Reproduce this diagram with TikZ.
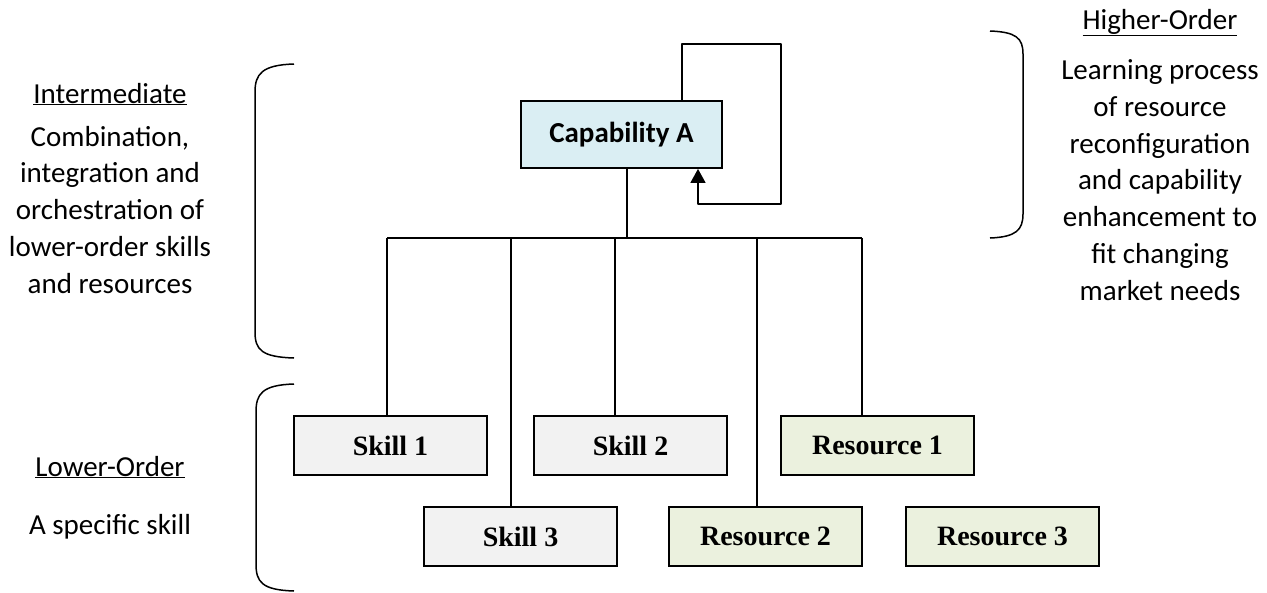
\documentclass[tikz,border=0pt]{standalone}
\usepackage{fontspec}
\setmainfont{Carlito}
\newfontfamily\tnr{Liberation Serif}
\usetikzlibrary{arrows.meta}

\definecolor{capfill}{HTML}{DAEEF3}
\definecolor{skillfill}{HTML}{F2F2F2}
\definecolor{resfill}{HTML}{EBF1DE}

\tikzset{
  unitbox/.style={draw=black, line width=1.8pt, minimum width=193pt, minimum height=59pt,
    inner sep=0pt, font=\tnr\bfseries\fontsize{28}{30}\selectfont},
  skillbox/.style={unitbox, fill=skillfill},
  resbox/.style={unitbox, fill=resfill},
  capbox/.style={draw=black, line width=1.8pt, fill=capfill, minimum width=201pt,
    minimum height=67pt, inner sep=0pt, font=\bfseries\fontsize{29}{31}\selectfont},
  link/.style={line width=1.5pt},
  brace/.style={line width=1.5pt},
  sidehead/.style={font=\fontsize{29}{31}\selectfont, inner sep=0pt, anchor=base},
  % multi-line blocks are placed by the baseline of their last line
  sidetext/.style={font=\fontsize{29}{36.7}\selectfont, align=center, inner sep=0pt, anchor=base},
}

\begin{document}
\begin{tikzpicture}[x=1pt, y=-1pt]
\useasboundingbox (0,0) rectangle (1267,592);

% capability and its lower-order building blocks
\node[capbox] (cap) at (621.5,134.5) {Capability A};

\node[skillbox] (s1) at (390.5,445.5) {Skill 1};
\node[skillbox] (s2) at (630.5,445.5) {Skill 2};
\node[resbox]   (r1) at (877.5,445.5) {Resource 1};
\node[skillbox] (s3) at (520.5,536.5) {Skill 3};
\node[resbox]   (r2) at (765.5,536.5) {Resource 2};
\node[resbox]   (r3) at (1002.5,536.5) {Resource 3};

% tree connectors
\coordinate (stem) at (627,238);
\coordinate (b1) at (387,238);
\coordinate (b3) at (511,238);
\coordinate (b2) at (615,238);
\coordinate (b5) at (757,238);
\coordinate (b4) at (862,238);
\draw[link] (cap.south -| stem) -- (stem);
\draw[link] (b1) -- (b4);
\draw[link] (b1) -- (b1 |- s1.north);
\draw[link] (b3) -- (b3 |- s3.north);
\draw[link] (b2) -- (b2 |- s2.north);
\draw[link] (b5) -- (b5 |- r2.north);
\draw[link] (b4) -- (b4 |- r1.north);

% learning feedback loop
\coordinate (lp1) at (682,44);
\coordinate (lp2) at (781,44);
\coordinate (lp3) at (781,204);
\coordinate (lp4) at (698,204);
\draw[link, line join=round, -{Triangle[width=15pt,length=14pt]}]
  (cap.north -| lp1) -- (lp1) -- (lp2) -- (lp3) -- (lp4) -- (cap.south -| lp4);

% brackets
\draw[brace] (294,64) .. controls (262,65) and (255,74) .. (255,92) -- (255,332)
  .. controls (255,350) and (262,357) .. (294,358);
\draw[brace] (294,384) .. controls (262,385) and (256,394) .. (256,412) -- (256,564)
  .. controls (256,582) and (262,590) .. (294,591);
\draw[brace] (990,31) .. controls (1016,32) and (1023,38) .. (1023,54) -- (1023,214)
  .. controls (1023,230) and (1016,237) .. (990,238);

% side annotations
\node[sidehead] (hInt) at (110,103) {\underline{Intermediate}};
\node[sidetext] (tInt) at (110,293) {Combination,\\integration and\\orchestration of\\lower-order skills\\and resources};
\node[sidehead] (hLow) at (110,476) {\underline{Lower-Order}};
\node[sidetext] (tLow) at (110,534) {A specific skill};
\node[sidehead] (hHigh) at (1160,29) {\underline{Higher-Order}};
\node[sidetext] (tHigh) at (1160,300) {Learning process\\of resource\\reconfiguration\\and capability\\enhancement to\\fit changing\\market needs};
\end{tikzpicture}
\end{document}
